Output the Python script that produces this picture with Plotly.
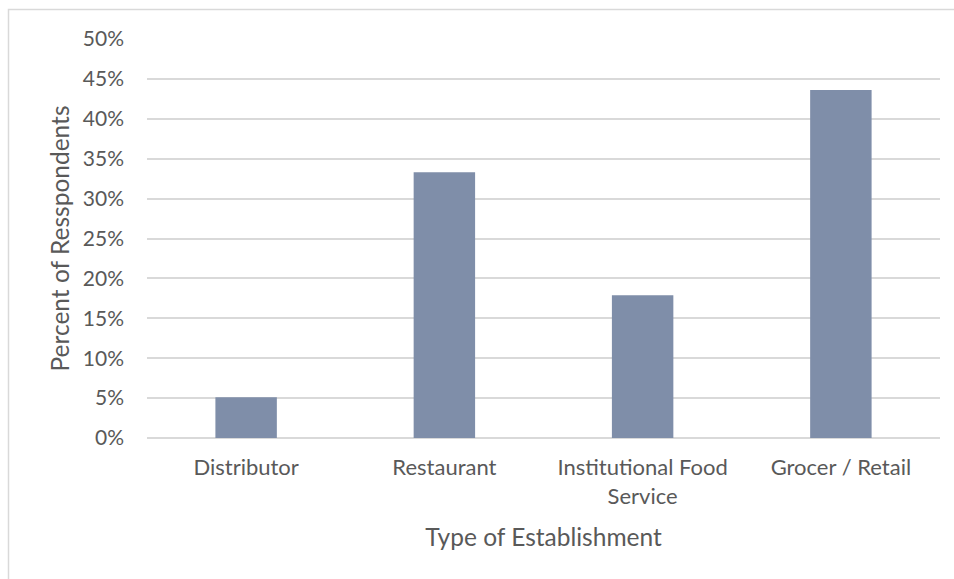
import plotly.graph_objects as go

# Survey respondents by establishment type
categories = ["Distributor", "Restaurant", "Institutional Food<br>Service", "Grocer / Retail"]
percent_respondents = [5.1, 33.3, 17.9, 43.6]
tick_values = [0, 5, 10, 15, 20, 25, 30, 35, 40, 45, 50]
tick_labels = [f"{v}%" for v in tick_values]

text_color = "#595959"
grid_color = "#D9D9D9"
font_family = "Lato, Open Sans, sans-serif"

fig = go.Figure(
    go.Bar(
        x=categories,
        y=percent_respondents,
        marker=dict(color="#7F8EA9", line=dict(width=0)),
        hoverinfo="x+y",
    )
)

# plot area bounds in pixels, used to place the outer chart frame
W, H = 954, 579
L, R, T, B = 147, 14, 39, 141
pw, ph = W - L - R, H - T - B

fig.update_layout(
    width=W,
    height=H,
    margin=dict(l=L, r=R, t=T, b=B),
    paper_bgcolor="white",
    plot_bgcolor="white",
    bargap=0.69,
    showlegend=False,
    font=dict(family=font_family, color=text_color, size=21),
    xaxis=dict(
        title=dict(text="Type of Establishment", font=dict(size=24.5, color=text_color), standoff=21),
        showgrid=False,
        showline=False,
        ticks="",
        ticklabelstandoff=14,
        tickfont=dict(size=22, color=text_color),
    ),
    yaxis=dict(
        title=dict(text="Percent of Resspondents", font=dict(size=24.5, color=text_color), standoff=6),
        range=[0, 50],
        tickvals=tick_values,
        ticktext=tick_labels,
        showgrid=True,
        gridcolor=grid_color,
        gridwidth=1.5,
        zeroline=True,
        zerolinecolor=grid_color,
        zerolinewidth=1.5,
        showline=False,
        ticks="",
        ticklabelstandoff=22,
        tickfont=dict(size=21, color=text_color),
    ),
    shapes=[
        dict(
            type="rect",
            xref="paper",
            yref="paper",
            x0=(8.5 - L) / pw,
            x1=(W + 5 - L) / pw,
            y0=(H - B - (H + 5)) / ph,
            y1=(H - B - 9.5) / ph,
            line=dict(color="#D9D9D9", width=1.5),
            fillcolor="rgba(0,0,0,0)",
            layer="below",
        )
    ],
)

fig.write_html("out.html")
